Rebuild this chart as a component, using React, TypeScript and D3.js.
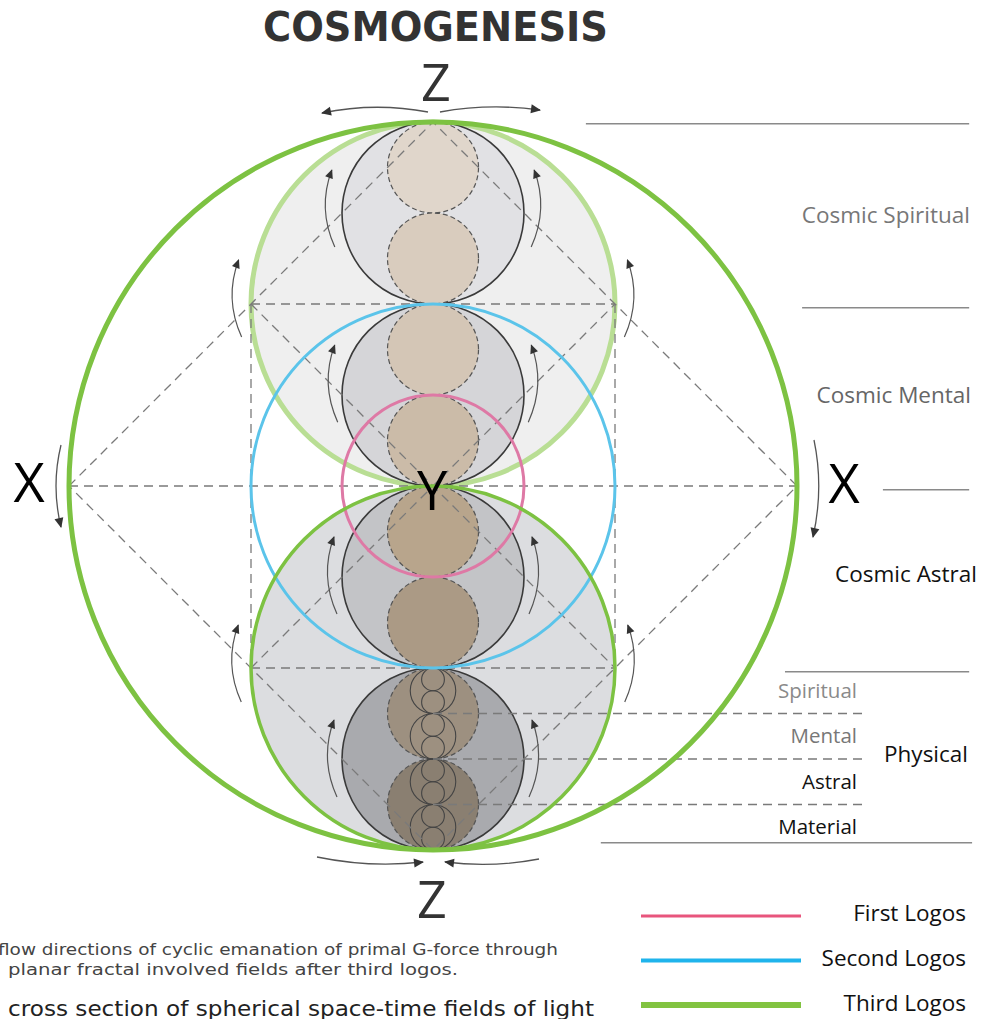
import React from "react";
import * as d3 from "d3";

const W = 982;
const H = 1019;

// unit frame: the outer (third logos) sphere has radius 1, centre 0,0
const sx = d3.scaleLinear().domain([-1, 1]).range([69, 797]);
const sy = d3.scaleLinear().domain([1, -1]).range([122, 850]);
const sr = (r: number) => sx(r) - sx(0);

const fieldCenters = [0.5, 0, -0.5]; // large spheres, r = 1/2
const mediumCenters = [0.75, 0.25, -0.25, -0.75]; // r = 1/4
const mediumFills = ["#e1e1e4", "#d5d5d8", "#c3c4c7", "#a9aaae"];
const smallCenters = [0.875, 0.625, 0.375, 0.125, -0.125, -0.375, -0.625, -0.875]; // r = 1/8
const smallFills = ["#e0d6cb", "#d9ccbe", "#d4c6b6", "#cbbba8", "#b8a58c", "#ab9a85", "#9d9080", "#8a7f71"];
const physicalCenters = [-0.625, -0.875]; // small spheres split again

const cosmicLabels = ["Cosmic Spiritual", "Cosmic Mental", "Cosmic Astral"];
const cosmicLabelY = [0.745, 0.25, -0.242];
const cosmicLabelRight = [970, 971, 977];
const cosmicLabelColors = ["#777", "#666", "#111"];

const physicalPlanes = ["Spiritual", "Mental", "Astral", "Material"];
const physicalPlaneColors = ["#8a8a8a", "#777", "#111", "#111"];
const planeBands = [-0.5625, -0.6875, -0.8125, -0.9375];
const planeDividers = [-0.625, -0.75, -0.875];

const rulerY = [0.995, 0.49, -0.01, -0.51, -0.98];
const rulerStart = [0.42, 1.014, 1.236, 0.967, 0.461];
const rulerEnd = [1.473, 1.473, 1.473, 1.473, 1.481];

const logoNames = ["First Logos", "Second Logos", "Third Logos"];
const logoColors = ["#e8557d", "#1fb4ec", "#82c341"];
const logoWidths = [3, 4, 6];

// small flow arrows on the left, mirrored on the right (tip positions)
const flowTips: [number, number][] = [
  [-0.278, 0.868], [-0.27, 0.387], [-0.272, -0.14], [-0.272, -0.643],
  [-0.534, 0.621], [-0.535, -0.382],
];

// outer diamond, then the inner V's of the upper and lower spheres
const guides: [number, number][][] = [
  [[-1, 0], [0, 1], [1, 0], [0, -1], [-1, 0]],
  [[-0.5, 0.5], [0, 0], [0.5, 0.5]],
  [[-0.5, -0.5], [0, 0], [0.5, -0.5]],
];
const hLines: [number, number, number][] = [
  [-0.5, 0.5, 0.5], [-1, 1, 0], [-0.5, 0.5, -0.5],
];

function curve(x0: number, y0: number, cx: number, cy: number, x1: number, y1: number) {
  const p = d3.path();
  p.moveTo(x0, y0);
  p.quadraticCurveTo(cx, cy, x1, y1);
  return p.toString();
}

export default function App() {
  const cx = sx(0);
  const dash = { stroke: "#7a7a7a", strokeWidth: 1.3, strokeDasharray: "9,6", fill: "none" };

  const tiny: { cy: number; r: number }[] = [];
  physicalCenters.forEach((c) => {
    [-1, 1].forEach((s) => tiny.push({ cy: c + s / 16, r: 1 / 16 }));
    [-3, -1, 1, 3].forEach((s) => tiny.push({ cy: c + s / 32, r: 1 / 32 }));
  });

  const arrows = flowTips.flatMap(([x, y]) =>
    [-1, 1].map((side) => {
      const tx = cx + side * (cx - sx(x));
      const ty = sy(y);
      const bx = tx - side * 3;
      const by = ty + 77;
      return curve(bx, by, (tx + bx) / 2 + side * 16, (ty + by) / 2, tx, ty);
    })
  );

  return (
    <svg width={W} height={H} style={{ display: "block", position: "absolute", left: 0, top: 0 }}>
      <defs>
        <marker id="ah" viewBox="0 0 10 10" refX="9" refY="5" markerWidth="10" markerHeight="9"
          markerUnits="userSpaceOnUse" orient="auto">
          <path d="M0,0.5 L10,5 L0,9.5 z" fill="#333" />
        </marker>
        <marker id="ahBig" viewBox="0 0 10 10" refX="9" refY="5" markerWidth="12" markerHeight="10"
          markerUnits="userSpaceOnUse" orient="auto">
          <path d="M0,0.5 L10,5 L0,9.5 z" fill="#333" />
        </marker>
      </defs>
      <rect width={W} height={H} fill="#fff" />

      <text x={263} y={41} textLength={345} lengthAdjust="spacingAndGlyphs"
        fontFamily="DejaVu Sans" fontWeight="bold" fontSize={40} fill="#333">COSMOGENESIS</text>

      {/* large spheres */}
      <circle cx={cx} cy={sy(fieldCenters[0])} r={sr(0.5)} fill="#efefef" stroke="#b9de94" strokeWidth={5} />
      <circle cx={cx} cy={sy(fieldCenters[2])} r={sr(0.5)} fill="#dcdde0" />

      {mediumCenters.map((c, i) => (
        <circle key={"m" + i} cx={cx} cy={sy(c)} r={sr(0.25)} fill={mediumFills[i]} stroke="#3a3a3a" strokeWidth={1.6} />
      ))}
      {smallCenters.map((c, i) => (
        <circle key={"s" + i} cx={cx} cy={sy(c)} r={sr(0.125)} fill={smallFills[i]}
          stroke="#555" strokeWidth={1.2} strokeDasharray="5,3" />
      ))}
      {tiny.map((t, i) => (
        <circle key={"t" + i} cx={cx} cy={sy(t.cy)} r={sr(t.r)} fill="none" stroke="#444" strokeWidth={1.1} />
      ))}

      {/* dashed construction lines */}
      {guides.map((d, i) => (
        <path key={"d" + i} d={d3.line()(d.map(([x, y]) => [sx(x), sy(y)]))!} style={dash} />
      ))}
      {hLines.map(([a, b, y], i) => (
        <line key={"h" + i} x1={sx(a)} x2={sx(b)} y1={sy(y)} y2={sy(y)} style={dash} />
      ))}
      {[-0.5, 0.5].map((x, i) => (
        <line key={"v" + i} x1={sx(x)} x2={sx(x)} y1={sy(0.5)} y2={sy(-0.5)} style={dash} />
      ))}
      {planeDividers.map((y, i) => (
        <line key={"p" + i} x1={cx} x2={868} y1={sy(y)} y2={sy(y)} style={dash} />
      ))}

      {/* logos spheres */}
      <circle cx={cx} cy={sy(0)} r={sr(0.5)} fill="none" stroke="#5bc4ea" strokeWidth={3} />
      <circle cx={cx} cy={sy(0)} r={sr(0.25)} fill="none" stroke="#de79a5" strokeWidth={3} />
      <circle cx={cx} cy={sy(fieldCenters[2])} r={sr(0.5)} fill="none" stroke="#7dc242" strokeWidth={3.5} />
      <circle cx={cx} cy={sy(0)} r={sr(1)} fill="none" stroke="#7dc242" strokeWidth={5} />

      {/* flow arrows */}
      {arrows.map((d, i) => (
        <path key={"a" + i} d={d} fill="none" stroke="#555" strokeWidth={1.2} markerEnd="url(#ah)" />
      ))}
      <path d={curve(428, 112, 375, 102, 322, 113)} fill="none" stroke="#555" strokeWidth={1.3} markerEnd="url(#ahBig)" />
      <path d={curve(440, 112, 490, 103, 540, 110)} fill="none" stroke="#555" strokeWidth={1.3} markerEnd="url(#ahBig)" />
      <path d={curve(317, 857, 370, 868, 423, 862)} fill="none" stroke="#555" strokeWidth={1.3} markerEnd="url(#ahBig)" />
      <path d={curve(539, 859, 492, 868, 445, 862)} fill="none" stroke="#555" strokeWidth={1.3} markerEnd="url(#ahBig)" />
      <path d={curve(61, 445, 51, 486, 61, 527)} fill="none" stroke="#555" strokeWidth={1.3} markerEnd="url(#ahBig)" />
      <path d={curve(814, 440, 824, 488, 813, 537)} fill="none" stroke="#555" strokeWidth={1.3} markerEnd="url(#ahBig)" />

      {/* axis letters */}
      <g fontFamily="Open Sans" textAnchor="middle">
        <text x={436} y={101} fontSize={52} fill="#333">Z</text>
        <text x={432} y={918} fontSize={52} fill="#333">Z</text>
        <text x={29} y={502} fontSize={54} fill="#000">X</text>
        <text x={844} y={503} fontSize={54} fill="#000">X</text>
        <text x={432} y={510} fontSize={54} fill="#000">Y</text>
      </g>

      {/* right rulers and labels */}
      {rulerY.map((y, i) => (
        <line key={"r" + i} x1={sx(rulerStart[i])} x2={sx(rulerEnd[i])} y1={sy(y)} y2={sy(y)} stroke="#8a8a8a" strokeWidth={1.5} />
      ))}
      <g fontFamily="Open Sans" textAnchor="end">
        {cosmicLabels.map((t, i) => (
          <text key={t} x={cosmicLabelRight[i]} y={sy(cosmicLabelY[i])} dy="0.35em" fontSize={22.5} fill={cosmicLabelColors[i]}>{t}</text>
        ))}
        {physicalPlanes.map((t, i) => (
          <text key={t} x={857} y={sy(planeBands[i])} dy="0.35em" fontSize={20.5} fill={physicalPlaneColors[i]}>{t}</text>
        ))}
        <text x={968} y={754} dy="0.35em" fontSize={22.5} fill="#111">Physical</text>
      </g>

      {/* legend */}
      {logoNames.map((t, i) => (
        <g key={t}>
          <line x1={641} x2={801} y1={916 + i * 44.5} y2={916 + i * 44.5} stroke={logoColors[i]} strokeWidth={logoWidths[i]} />
          <text x={966} y={913 + i * 45} dy="0.35em" textAnchor="end" fontFamily="Open Sans" fontSize={22.5} fill="#111">{t}</text>
        </g>
      ))}

      {/* captions */}
      <g fontFamily="DejaVu Sans">
        <text x={-2} y={955} fontSize={16} textLength={560} lengthAdjust="spacingAndGlyphs" fill="#444">flow directions of cyclic emanation of primal G-force through</text>
        <text x={8} y={975} fontSize={16} textLength={450} lengthAdjust="spacingAndGlyphs" fill="#444">planar fractal involved fields after third logos.</text>
        <text x={8} y={1016} fontSize={22} textLength={586} lengthAdjust="spacingAndGlyphs" fill="#222">cross section of spherical space-time fields of light</text>
      </g>
    </svg>
  );
}
